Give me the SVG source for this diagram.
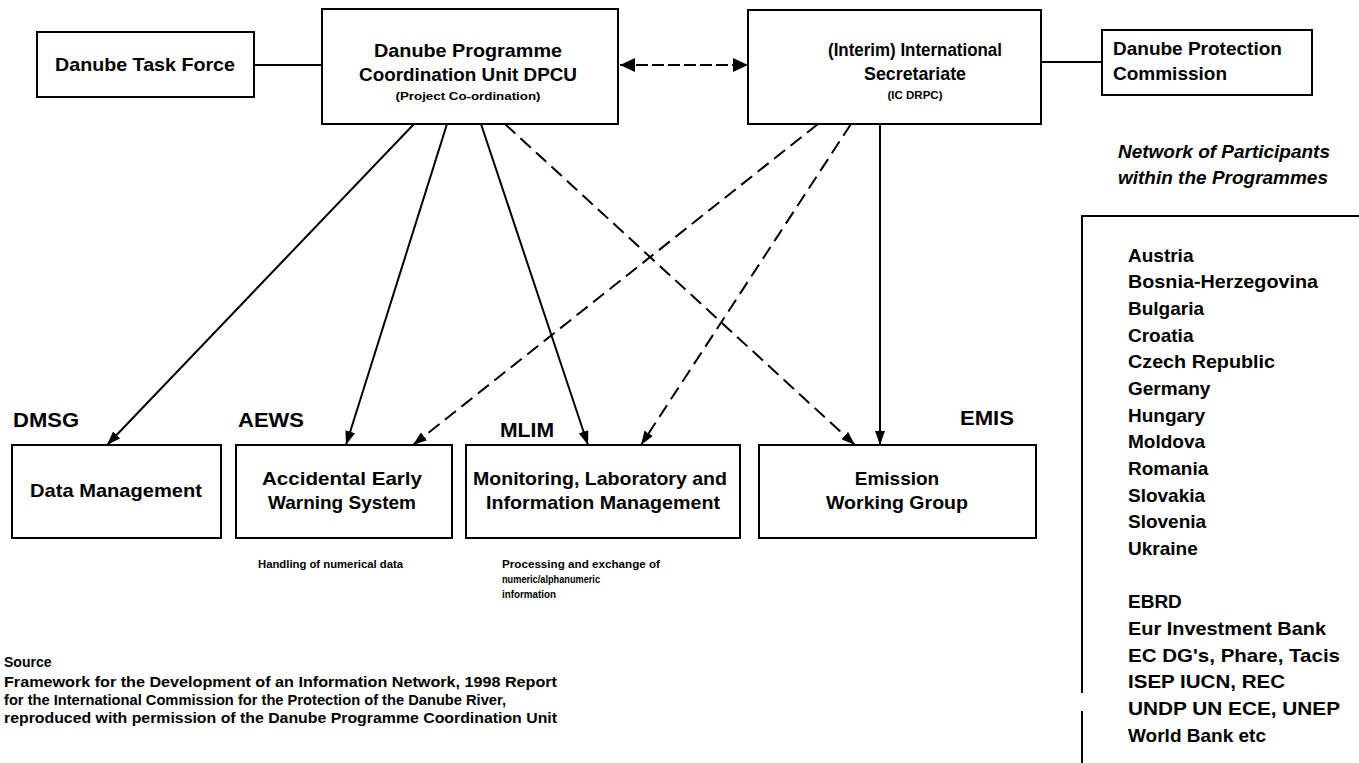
<svg xmlns="http://www.w3.org/2000/svg" width="1359" height="763" viewBox="0 0 1359 763">
<style>
.box{fill:#fff;stroke:#000;stroke-width:2}
.t{font-family:"Liberation Sans",Arial,sans-serif;font-weight:bold;font-size:19px;fill:#000}
.c{text-anchor:middle}
.lbl{font-size:20px}
.sm{font-size:11.5px}
.cap{font-size:10px}
.src{font-size:14px}
.lst{font-size:19px}
.it{font-style:italic;font-size:18px}
.ln{stroke:#000;stroke-width:2;fill:none}
.ds{stroke-dasharray:14 7}
</style>
<defs>
<marker id="ah" viewBox="0 0 14 10" refX="14" refY="5" markerWidth="14" markerHeight="10" markerUnits="userSpaceOnUse" orient="auto-start-reverse">
<path d="M0,0 L14,5 L0,10 z" fill="#000"/>
</marker>
<marker id="ahb" viewBox="0 0 15 14" refX="15" refY="7" markerWidth="15" markerHeight="14" markerUnits="userSpaceOnUse" orient="auto-start-reverse">
<path d="M0,0 L15,7 L0,14 z" fill="#000"/>
</marker>
</defs>
<rect width="1359" height="763" fill="#fff"/>

<g id="connectors">
<line class="ln" x1="254" y1="65" x2="322" y2="65"/>
<line class="ln" x1="1041" y1="62" x2="1102" y2="62"/>
<line class="ln" x1="620" y1="65" x2="748" y2="65" stroke-dasharray="12 4" marker-start="url(#ahb)" marker-end="url(#ahb)"/>
<line class="ln" x1="414" y1="124" x2="107" y2="445" marker-end="url(#ah)"/>
<line class="ln" x1="447" y1="124" x2="346" y2="445" marker-end="url(#ah)"/>
<line class="ln" x1="481" y1="124" x2="588" y2="445" marker-end="url(#ah)"/>
<line class="ln ds" x1="505" y1="124" x2="855" y2="445" marker-end="url(#ah)"/>
<line class="ln ds" x1="818" y1="124" x2="413" y2="445" marker-end="url(#ah)"/>
<line class="ln ds" x1="851" y1="124" x2="641" y2="445" marker-end="url(#ah)"/>
<line class="ln" x1="880" y1="124" x2="880" y2="445" marker-end="url(#ah)"/>
</g>

<g id="task-force">
<rect class="box" x="37" y="32" width="217" height="65"/>
<text class="t c" x="145" y="71" textLength="180" lengthAdjust="spacingAndGlyphs">Danube Task Force</text>
</g>

<g id="dpcu">
<rect class="box" x="322" y="9" width="296" height="115"/>
<text class="t c" x="468" y="57" textLength="188" lengthAdjust="spacingAndGlyphs">Danube Programme</text>
<text class="t c" x="468" y="81" textLength="218" lengthAdjust="spacingAndGlyphs">Coordination Unit DPCU</text>
<text class="t c sm" x="468" y="100" textLength="145" lengthAdjust="spacingAndGlyphs">(Project Co-ordination)</text>
</g>

<g id="secretariate">
<rect class="box" x="748" y="10" width="293" height="114"/>
<text class="t c" x="915" y="56" textLength="174" lengthAdjust="spacingAndGlyphs">(Interim) International</text>
<text class="t c" x="915" y="80" textLength="102" lengthAdjust="spacingAndGlyphs">Secretariate</text>
<text class="t c sm" x="915" y="99">(IC DRPC)</text>
</g>

<g id="protection-commission">
<rect class="box" x="1102" y="30" width="210" height="65"/>
<text class="t" x="1113" y="55">Danube Protection</text>
<text class="t" x="1113" y="80">Commission</text>
</g>

<g id="dmsg">
<text class="t lbl" x="13" y="427" textLength="66" lengthAdjust="spacingAndGlyphs">DMSG</text>
<rect class="box" x="12" y="445" width="209" height="93"/>
<text class="t c" x="116" y="497" textLength="172" lengthAdjust="spacingAndGlyphs">Data Management</text>
</g>

<g id="aews">
<text class="t lbl" x="238" y="427" textLength="66" lengthAdjust="spacingAndGlyphs">AEWS</text>
<rect class="box" x="236" y="445" width="216" height="93"/>
<text class="t c" x="342" y="485" textLength="160" lengthAdjust="spacingAndGlyphs">Accidental Early</text>
<text class="t c" x="342" y="509" textLength="148" lengthAdjust="spacingAndGlyphs">Warning System</text>
<text class="t cap" x="258" y="568" textLength="145" lengthAdjust="spacingAndGlyphs">Handling of numerical data</text>
</g>

<g id="mlim">
<text class="t lbl" x="500" y="437" textLength="54" lengthAdjust="spacingAndGlyphs">MLIM</text>
<rect class="box" x="466" y="445" width="274" height="93"/>
<text class="t c" x="600" y="485" textLength="254" lengthAdjust="spacingAndGlyphs">Monitoring, Laboratory and</text>
<text class="t c" x="603" y="509" textLength="234" lengthAdjust="spacingAndGlyphs">Information Management</text>
<text class="t cap" x="502" y="568" textLength="158" lengthAdjust="spacingAndGlyphs">Processing and exchange of</text>
<text class="t cap" x="502" y="583" textLength="98" lengthAdjust="spacingAndGlyphs">numeric/alphanumeric</text>
<text class="t cap" x="502" y="598" textLength="54" lengthAdjust="spacingAndGlyphs">information</text>
</g>

<g id="emis">
<text class="t lbl" x="960" y="425" textLength="54" lengthAdjust="spacingAndGlyphs">EMIS</text>
<rect class="box" x="759" y="445" width="277" height="93"/>
<text class="t c" x="897" y="485">Emission</text>
<text class="t c" x="897" y="509" textLength="142" lengthAdjust="spacingAndGlyphs">Working Group</text>
</g>

<g id="participants">
<text class="t it" x="1118" y="158" textLength="212" lengthAdjust="spacingAndGlyphs">Network of Participants</text>
<text class="t it" x="1118" y="184" textLength="210" lengthAdjust="spacingAndGlyphs">within the Programmes</text>
<path class="ln" d="M1359,216 H1082 V693 M1082,711 V763"/>
<text class="t lst" x="1128" y="262">Austria</text>
<text class="t lst" x="1128" y="288" textLength="190" lengthAdjust="spacingAndGlyphs">Bosnia-Herzegovina</text>
<text class="t lst" x="1128" y="315">Bulgaria</text>
<text class="t lst" x="1128" y="342">Croatia</text>
<text class="t lst" x="1128" y="368" textLength="147" lengthAdjust="spacingAndGlyphs">Czech Republic</text>
<text class="t lst" x="1128" y="395">Germany</text>
<text class="t lst" x="1128" y="422">Hungary</text>
<text class="t lst" x="1128" y="448">Moldova</text>
<text class="t lst" x="1128" y="475">Romania</text>
<text class="t lst" x="1128" y="502">Slovakia</text>
<text class="t lst" x="1128" y="528">Slovenia</text>
<text class="t lst" x="1128" y="555">Ukraine</text>
<text class="t lst" x="1128" y="608">EBRD</text>
<text class="t lst" x="1128" y="635" textLength="198" lengthAdjust="spacingAndGlyphs">Eur  Investment Bank</text>
<text class="t lst" x="1128" y="662" textLength="212" lengthAdjust="spacingAndGlyphs">EC  DG's, Phare, Tacis</text>
<text class="t lst" x="1128" y="688" textLength="157" lengthAdjust="spacingAndGlyphs">ISEP  IUCN, REC</text>
<text class="t lst" x="1128" y="715" textLength="212" lengthAdjust="spacingAndGlyphs">UNDP  UN ECE, UNEP</text>
<text class="t lst" x="1128" y="742" textLength="138" lengthAdjust="spacingAndGlyphs">World Bank etc</text>
</g>

<g id="source">
<text class="t src" x="4" y="667">Source</text>
<text class="t src" x="4" y="687" textLength="553" lengthAdjust="spacingAndGlyphs">Framework for the Development of an Information Network, 1998  Report</text>
<text class="t src" x="4" y="705" textLength="502" lengthAdjust="spacingAndGlyphs">for the International Commission for the Protection of the Danube River,</text>
<text class="t src" x="4" y="723" textLength="553" lengthAdjust="spacingAndGlyphs">reproduced with permission of the Danube Programme Coordination Unit</text>
</g>
</svg>
